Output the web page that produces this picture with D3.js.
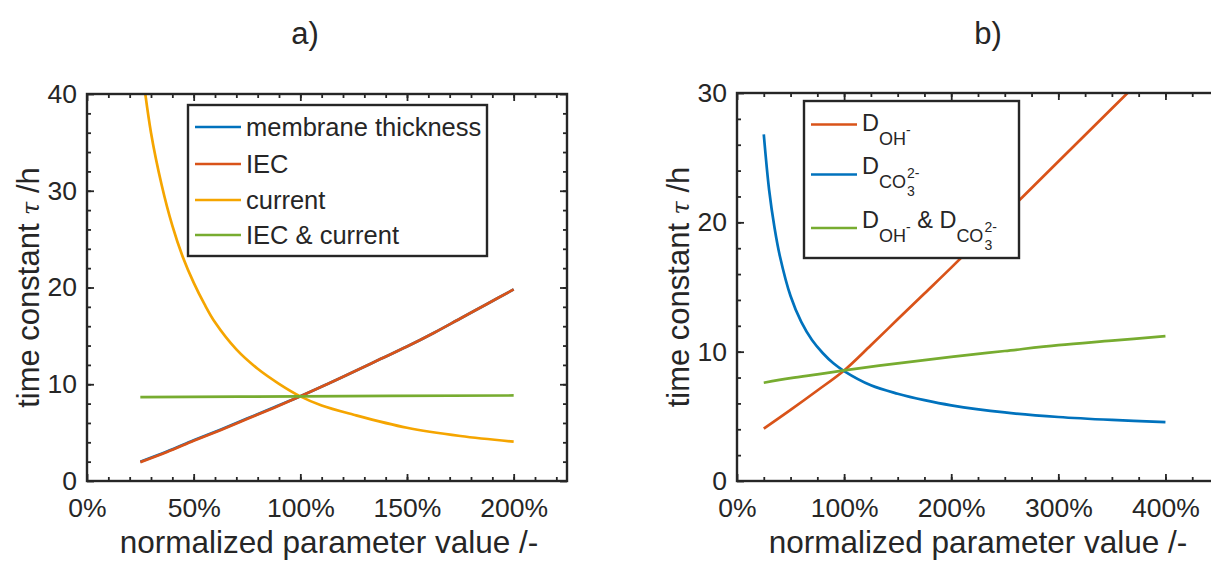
<!DOCTYPE html>
<html><head><meta charset="utf-8">
<script src="https://cdn.jsdelivr.net/npm/d3@7"></script>
<style>
body{margin:0;background:#fff}
svg{display:block}
text{font-family:"Liberation Sans",Arial,sans-serif;fill:#262626}
</style></head><body>
<svg id="c" width="1211" height="562"></svg>
<script>
// ---------- Panel a data ----------
const aXTicks = [0, 0.5, 1, 1.5, 2];
const aYTicks = [0, 10, 20, 30, 40];
const aLinX = [0.25, 0.375, 0.5, 0.625, 0.75, 0.875, 1.0, 1.125, 1.25, 1.375, 1.5, 1.625, 1.75, 1.875, 2.0];
const aThickness = [2.0, 3.05, 4.2, 5.3, 6.45, 7.6, 8.75, 10.0, 11.3, 12.6, 13.9, 15.3, 16.8, 18.3, 19.8];
const aIEC = [1.95, 3.0, 4.15, 5.25, 6.4, 7.55, 8.75, 10.0, 11.3, 12.6, 13.9, 15.3, 16.8, 18.3, 19.8];
const aCurX = [0.25, 0.3, 0.35, 0.4, 0.45, 0.5, 0.55, 0.6, 0.7, 0.8, 0.9, 1.0, 1.1, 1.25, 1.5, 1.75, 2.0];
const aCurrent = [44.0, 36.0, 30.6, 26.4, 23.1, 20.5, 18.3, 16.4, 13.6, 11.6, 10.05, 8.75, 7.8, 6.85, 5.5, 4.65, 4.07];
const aBothX = [0.25, 1.0, 2.0];
const aBoth = [8.67, 8.75, 8.84];
const aLegend = ["membrane thickness", "IEC", "current", "IEC & current"];

// ---------- Panel b data ----------
const bXTicks = [0, 1, 2, 3, 4];
const bYTicks = [0, 10, 20, 30];
const bOHX = [0.25, 0.5, 0.75, 1.0, 1.25, 1.5, 1.75, 2.0, 2.5, 3.0, 3.5, 4.0];
const bOH = [4.05, 5.5, 7.0, 8.55, 10.5, 12.5, 14.5, 16.5, 20.6, 24.7, 28.8, 32.9];
const bCOX = [0.25, 0.3, 0.35, 0.4, 0.5, 0.6, 0.7, 0.8, 0.9, 1.0, 1.25, 1.5, 1.75, 2.0, 2.5, 3.0, 3.5, 4.0];
const bCO3 = [26.8, 22.5, 19.6, 17.4, 14.3, 12.3, 10.9, 9.9, 9.1, 8.5, 7.4, 6.75, 6.25, 5.85, 5.3, 4.95, 4.72, 4.55];
const bBothX = [0.25, 0.5, 0.75, 1.0, 1.5, 2.0, 2.5, 3.0, 3.5, 4.0];
const bBoth = [7.6, 7.95, 8.25, 8.55, 9.1, 9.6, 10.05, 10.5, 10.85, 11.2];

const C = {blue:"#0072BD", red:"#D95319", yellow:"#F5A500", green:"#77AC30", ink:"#262626"};

const svg = d3.select("#c");

function panel(o){
  const g = svg.append("g");
  const x = d3.scaleLinear().domain(o.xDom).range([o.left, o.right]);
  const y = d3.scaleLinear().domain(o.yDom).range([o.bottom, o.top]);
  const cid = "clip"+o.id;
  svg.append("clipPath").attr("id", cid).append("rect")
    .attr("x", o.left).attr("y", o.top).attr("width", o.right-o.left).attr("height", o.bottom-o.top);
  const line = d3.line().x(d=>x(d[0])).y(d=>y(d[1])).curve(d3.curveCatmullRom.alpha(0.5));
  const lg = g.append("g").attr("clip-path", `url(#${cid})`);
  o.series.forEach(s=>{
    lg.append("path").datum(s.xs.map((v,i)=>[v, s.ys[i]]))
      .attr("d", line).attr("fill","none").attr("stroke", s.color)
      .attr("stroke-width", 2.7).attr("stroke-linejoin","round");
  });
  const fmt = d3.format(".0%");
  const styleAxis = sel => { sel.select(".domain").remove(); sel.selectAll("line").attr("stroke", C.ink).attr("stroke-width", 1.8); };
  // minor ticks
  const axMinB = d3.axisBottom(x).tickValues(o.xMinor).tickSize(-4).tickFormat("");
  const axMinT = d3.axisTop(x).tickValues(o.xMinor).tickSize(-4).tickFormat("");
  const ayMinL = d3.axisLeft(y).tickValues(o.yMinor).tickSize(-4).tickFormat("");
  const ayMinR = d3.axisRight(y).tickValues(o.yMinor).tickSize(-4).tickFormat("");
  g.append("g").attr("transform",`translate(0,${o.bottom})`).call(axMinB).call(styleAxis);
  g.append("g").attr("transform",`translate(0,${o.top})`).call(axMinT).call(styleAxis);
  g.append("g").attr("transform",`translate(${o.left},0)`).call(ayMinL).call(styleAxis);
  g.append("g").attr("transform",`translate(${o.right},0)`).call(ayMinR).call(styleAxis);
  // major ticks
  const axB = d3.axisBottom(x).tickValues(o.xTicks).tickSize(-7).tickPadding(17).tickFormat(fmt);
  const axT = d3.axisTop(x).tickValues(o.xTicks).tickSize(-7).tickFormat("");
  const ayL = d3.axisLeft(y).tickValues(o.yTicks).tickSize(-7).tickPadding(10).tickFormat(d3.format("d"));
  const ayR = d3.axisRight(y).tickValues(o.yTicks).tickSize(-7).tickFormat("");
  const gb = g.append("g").attr("transform",`translate(0,${o.bottom})`).call(axB).call(styleAxis);
  g.append("g").attr("transform",`translate(0,${o.top})`).call(axT).call(styleAxis);
  const gl = g.append("g").attr("transform",`translate(${o.left},0)`).call(ayL).call(styleAxis);
  g.append("g").attr("transform",`translate(${o.right},0)`).call(ayR).call(styleAxis);
  [gb, gl].forEach(s=>s.selectAll("text").attr("font-size", 26.5).attr("fill", C.ink)
     .style("font-family",'"Liberation Sans",Arial,sans-serif'));
  // frame
  g.append("rect").attr("x", o.left).attr("y", o.top).attr("width", o.right-o.left).attr("height", o.bottom-o.top)
    .attr("fill","none").attr("stroke", C.ink).attr("stroke-width", 2.4);
  // labels
  g.append("text").attr("x", o.titleX).attr("y", 44).attr("text-anchor","middle").attr("font-size", 31).text(o.title);
  g.append("text").attr("x", o.xLabelX).attr("y", 553).attr("text-anchor","middle").attr("font-size", 31.5)
    .text("normalized parameter value /-");
  const yl = g.append("text").attr("transform",`translate(${o.yLabelX},${(o.top+o.bottom)/2}) rotate(-90)`)
    .attr("text-anchor","middle").attr("font-size", 31);
  yl.append("tspan").text("time constant ");
  yl.append("tspan").attr("font-family","DejaVu Serif").attr("font-style","italic").attr("font-size",24).text("τ");
  yl.append("tspan").text(" /h");
  return {g, x, y};
}

function range(a, b, s){ const r=[]; for(let v=a; v<=b+1e-9; v+=s) r.push(+v.toFixed(4)); return r; }

// Panel a
const pa = panel({
  id:"a", left:87, right:567, top:94, bottom:481, xDom:[0,2.25], yDom:[0,40],
  xTicks:aXTicks, yTicks:aYTicks, xMinor:range(0.1,2.2,0.1), yMinor:range(2,38,2),
  title:"a)", titleX:305, xLabelX:329, yLabelX:39,
  series:[
    {xs:aLinX, ys:aThickness, color:C.blue},
    {xs:aLinX, ys:aIEC, color:C.red},
    {xs:aCurX, ys:aCurrent, color:C.yellow},
    {xs:aBothX, ys:aBoth, color:C.green}
  ]
});
// Legend a
{
  const g = pa.g.append("g");
  g.append("rect").attr("x",188).attr("y",105).attr("width",299).attr("height",151)
    .attr("fill","#fff").attr("stroke",C.ink).attr("stroke-width",2.4);
  const cols = [C.blue, C.red, C.yellow, C.green];
  const rows = [127, 164, 200, 235];
  aLegend.forEach((t,i)=>{
    g.append("line").attr("x1",195).attr("x2",241).attr("y1",rows[i]).attr("y2",rows[i])
      .attr("stroke",cols[i]).attr("stroke-width",2.7);
    g.append("text").attr("x",246).attr("y",rows[i]+9).attr("font-size",25.5).text(t);
  });
}

// Panel b
const pb = panel({
  id:"b", left:737, right:1219, top:93, bottom:481, xDom:[0,4.5], yDom:[0,30],
  xTicks:bXTicks, yTicks:bYTicks, xMinor:range(0.25,4.5,0.25), yMinor:range(2,28,2),
  title:"b)", titleX:988, xLabelX:978, yLabelX:689,
  series:[
    {xs:bOHX, ys:bOH, color:C.red},
    {xs:bCOX, ys:bCO3, color:C.blue},
    {xs:bBothX, ys:bBoth, color:C.green}
  ]
});
// Legend b
{
  const g = pb.g.append("g");
  g.append("rect").attr("x",804).attr("y",101).attr("width",215).attr("height",157)
    .attr("fill","#fff").attr("stroke",C.ink).attr("stroke-width",2.4);
  const cols = [C.red, C.blue, C.green];
  const lineY = [124.5, 174.5, 228];
  const base = [131, 174, 228];
  function piece(x, b, t, fs){
    const el = g.append("text").attr("x",x).attr("y",b).attr("font-size",fs).text(t);
    return el.node().getComputedTextLength();
  }
  const sub = 14, sup = 4, subsub = 22;
  const rowsDef = [
    [{t:"D",fs:23.5,d:0},{t:"OH",fs:18,d:sub},{t:"-",fs:14,d:sup}],
    [{t:"D",fs:23.5,d:0},{t:"CO",fs:18,d:sub},{stack:[{t:"2-",fs:14,d:sup},{t:"3",fs:14,d:subsub}]}],
    [{t:"D",fs:23.5,d:0},{t:"OH",fs:18,d:sub},{t:"-",fs:14,d:sup},{t:"\u00a0& D",fs:23.5,d:0},{t:"CO",fs:18,d:sub},{stack:[{t:"2-",fs:14,d:sup},{t:"3",fs:14,d:subsub}]}]
  ];
  rowsDef.forEach((parts,i)=>{
    g.append("line").attr("x1",811).attr("x2",857).attr("y1",lineY[i]).attr("y2",lineY[i])
      .attr("stroke",cols[i]).attr("stroke-width",2.7);
    let x = 862;
    parts.forEach(p=>{
      if(p.stack){
        let w = 0;
        p.stack.forEach(q=>{ w = Math.max(w, piece(x+1, base[i]+q.d, q.t, q.fs)); });
        x += w + 1;
      } else {
        x += piece(x, base[i]+p.d, p.t, p.fs);
      }
    });
  });
}
</script>
</body></html>
